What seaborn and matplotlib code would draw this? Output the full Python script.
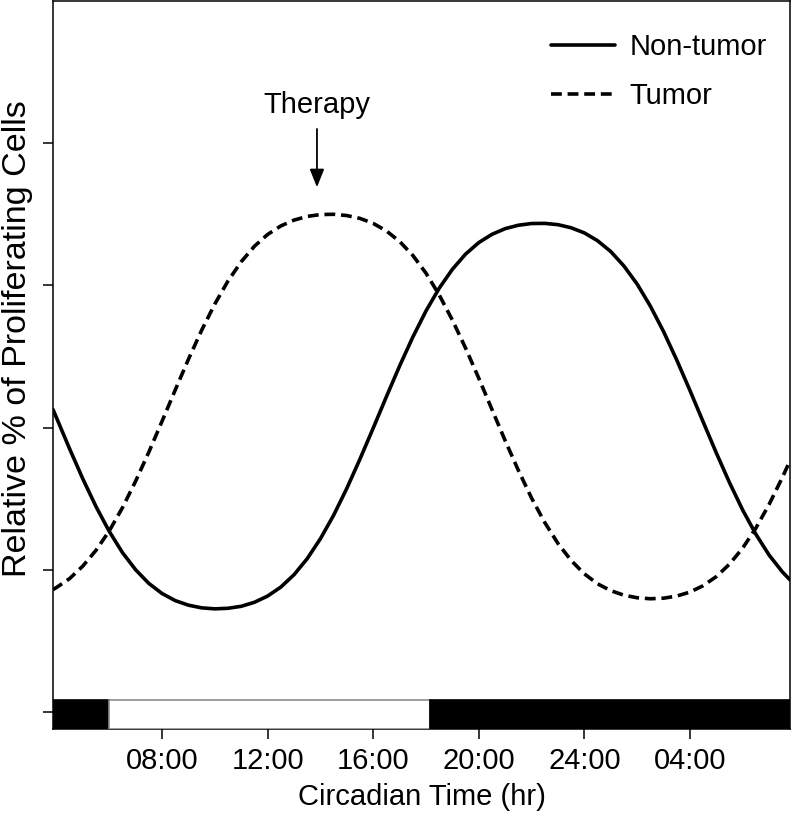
import numpy as np
import pandas as pd
import matplotlib
matplotlib.use("Agg")
import matplotlib.pyplot as plt
import seaborn as sns

# circadian time (hr)
hours = [3.87, 4, 4.5, 5, 5.5, 6, 6.5, 7, 7.5, 8, 8.5, 9, 9.5, 10, 10.5,
         11, 11.5, 12, 12.5, 13, 13.5, 14, 14.5, 15, 15.5, 16, 16.5, 17,
         17.5, 18, 18.5, 19, 19.5, 20, 20.5, 21, 21.5, 22, 22.5, 23, 23.5,
         24, 24.5, 25, 25.5, 26, 26.5, 27, 27.5, 28, 28.5, 29, 29.5, 30,
         30.5, 31, 31.5, 31.79]
non_tumor = [2.127, 2.070, 1.850, 1.639, 1.444, 1.270, 1.121, 1.000, 0.904,
             0.833, 0.783, 0.751, 0.732, 0.725, 0.729, 0.743, 0.771, 0.815,
             0.878, 0.965, 1.078, 1.218, 1.383, 1.572, 1.779, 1.996, 2.217,
             2.433, 2.636, 2.820, 2.980, 3.113, 3.220, 3.301, 3.359, 3.399,
             3.423, 3.435, 3.436, 3.427, 3.405, 3.369, 3.314, 3.238, 3.136,
             3.009, 2.854, 2.675, 2.475, 2.261, 2.040, 1.821, 1.612, 1.419,
             1.249, 1.103, 0.985, 0.929]
tumor = [0.860, 0.875, 0.938, 1.026, 1.137, 1.273, 1.436, 1.623, 1.827,
         2.044, 2.264, 2.480, 2.684, 2.869, 3.031, 3.166, 3.275, 3.358,
         3.418, 3.459, 3.485, 3.498, 3.500, 3.491, 3.471, 3.436, 3.383,
         3.309, 3.211, 3.086, 2.933, 2.756, 2.559, 2.347, 2.127, 1.908,
         1.699, 1.504, 1.332, 1.185, 1.065, 0.971, 0.901, 0.853, 0.821,
         0.803, 0.796, 0.800, 0.815, 0.843, 0.888, 0.952, 1.040, 1.153,
         1.294, 1.460, 1.649, 1.767]

tick_hours = [8, 12, 16, 20, 24, 28]
tick_labels = ["08:00", "12:00", "16:00", "20:00", "24:00", "04:00"]

# light / dark bar along the bottom
ld_start = [3.87, 6.0, 18.15]
ld_end = [6.0, 18.15, 31.79]
ld_color = ["black", "white", "black"]
ld_edge = ["black", "#8c8c8c", "black"]

therapy_hour = 13.87

df = pd.DataFrame({
    "hour": hours * 2,
    "value": non_tumor + tumor,
    "group": ["Non-tumor"] * len(hours) + ["Tumor"] * len(hours),
})

sns.set_style("ticks")
plt.rcParams["font.family"] = ["Liberation Sans", "DejaVu Sans"]
plt.rcParams["text.color"] = "black"
plt.rcParams["axes.labelcolor"] = "black"
plt.rcParams["xtick.color"] = "black"
plt.rcParams["ytick.color"] = "black"

fig = plt.figure(figsize=(7.95, 8.21), dpi=100)
ax = fig.add_axes([53 / 795, 1 - 729 / 821, 737 / 795, 728 / 821])

sns.lineplot(data=df, x="hour", y="value", style="group", color="black",
             dashes={"Non-tumor": "", "Tumor": (3, 1.6)}, linewidth=2.6,
             solid_joinstyle="round", dash_joinstyle="round", ax=ax)

# light/dark schedule
for s, e, c, ec in zip(ld_start, ld_end, ld_color, ld_edge):
    ax.barh(-0.0175, e - s, left=s, height=0.205, color=c, edgecolor=ec,
            linewidth=1.2, zorder=3)

ax.annotate("", xy=(therapy_hour, 3.69), xytext=(therapy_hour, 4.10),
            arrowprops=dict(arrowstyle="-|>,head_length=0.5,head_width=0.2",
                            color="black", lw=1.3, mutation_scale=22,
                            shrinkA=0, shrinkB=0))
ax.text(therapy_hour, 4.27, "Therapy", ha="center", va="center", fontsize=21,
        color="black")

ax.set_xlim(3.87, 31.79)
ax.set_ylim(-0.12, 5.0)
ax.set_xticks(tick_hours)
ax.set_xticklabels(tick_labels)
ax.set_yticks([0, 1, 2, 3, 4])
ax.set_yticklabels([])
ax.tick_params(axis="both", length=7, width=1.1, labelsize=21, pad=6,
               color="black", labelcolor="black")
for sp in ax.spines.values():
    sp.set_visible(True)
    sp.set_linewidth(1.1)
    sp.set_color("black")

ax.set_xlabel("Circadian Time (hr)", fontsize=21, labelpad=6, color="black")
ax.set_ylabel("Relative % of Proliferating Cells", fontsize=24.5,
              color="black")
ax.yaxis.set_label_coords(-0.027, 0.536)

handles, labels = ax.get_legend_handles_labels()
leg = ax.legend(handles, labels, loc="upper right", frameon=False,
                bbox_to_anchor=(1.0, 0.988),
                fontsize=21, handlelength=2.2, handletextpad=0.5,
                labelspacing=0.72, borderaxespad=0.4, labelcolor="black")
for ln in leg.get_lines():
    ln.set_linewidth(2.6)
    ln.set_color("black")

fig.savefig("out.png", dpi=100)
